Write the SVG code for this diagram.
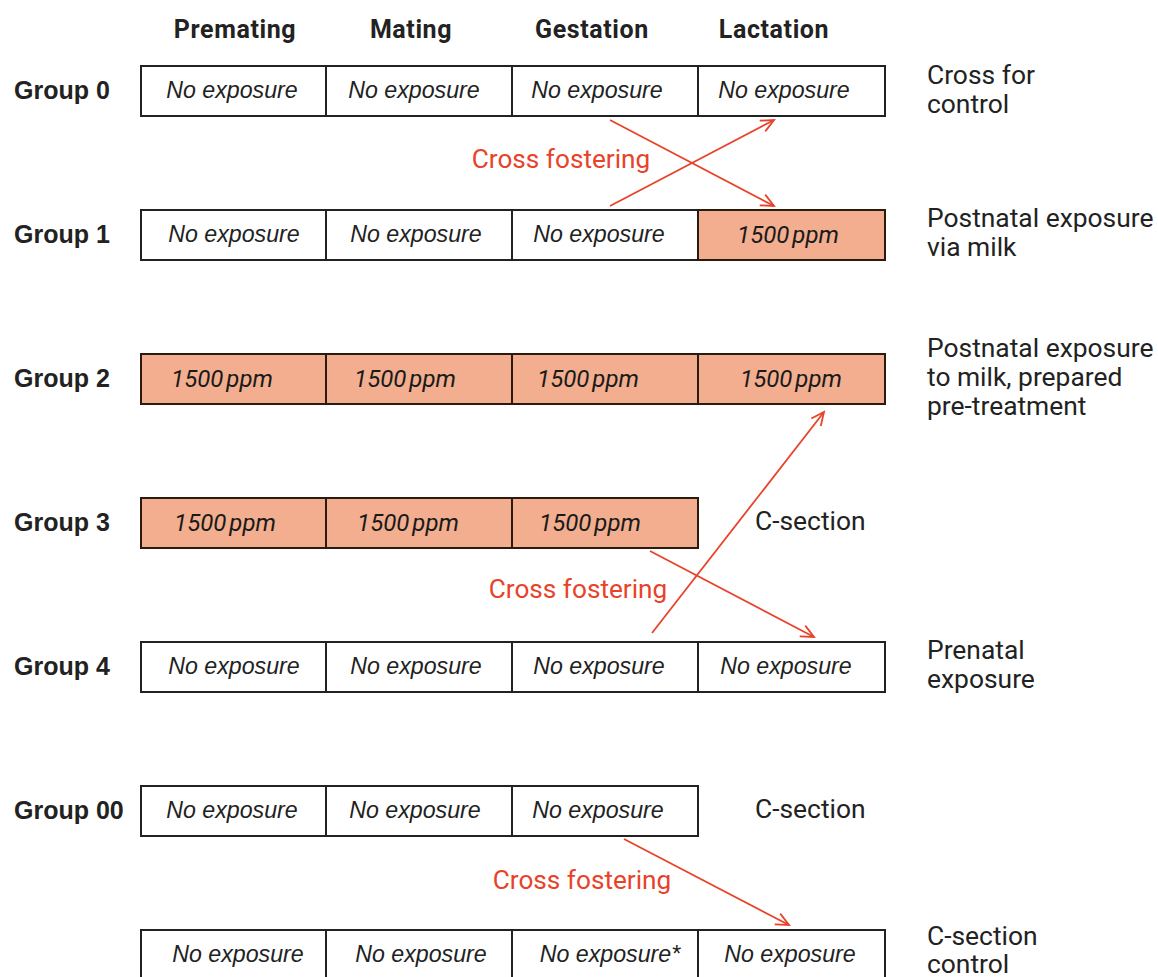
<svg xmlns="http://www.w3.org/2000/svg" width="1158" height="977" viewBox="0 0 1158 977">
<defs>
<marker id="ah" markerUnits="userSpaceOnUse" markerWidth="20" markerHeight="20" refX="14" refY="7" orient="auto" viewBox="0 0 20 14">
<path d="M1,1 L14,7 L1,13" fill="none" stroke="#e8432a" stroke-width="1.8"/>
</marker>
<style>
.hd{font-family:Roboto,"Liberation Sans",sans-serif;font-weight:bold;font-size:25px;letter-spacing:0.6px;fill:#222;text-anchor:middle}
.gl{font-family:"Liberation Sans",Arial,sans-serif;font-weight:bold;font-size:25px;fill:#222}
.ct{font-family:"Liberation Sans",Arial,sans-serif;font-style:italic;font-size:23.2px;fill:#222;text-anchor:middle}
.pp{font-family:Roboto,"Liberation Sans",sans-serif;font-style:italic;font-size:24px;fill:#1a1a1a;text-anchor:middle;word-spacing:-3px}
.rl{font-family:Roboto,"Liberation Sans",sans-serif;font-size:26.4px;fill:#222}
.cf{font-family:Roboto,"Liberation Sans",sans-serif;font-size:26.2px;fill:#e8432a;text-anchor:middle}
.c{fill:#fff;stroke:#222;stroke-width:2}
.e{fill:#f2ae8e;stroke:#2a1a10;stroke-width:2}
.ar{stroke:#e8432a;stroke-width:1.8;fill:none;marker-end:url(#ah)}
</style>
</defs>
<rect width="1158" height="977" fill="#fff"/>
<g id="headers">
<text class="hd" x="235" y="38">Premating</text>
<text class="hd" x="411" y="38">Mating</text>
<text class="hd" x="592" y="38">Gestation</text>
<text class="hd" x="774" y="38">Lactation</text>
</g>
<g id="group0">
<text class="gl" x="14" y="99">Group 0</text>
<rect class="c" x="141" y="66" width="185" height="50"/>
<rect class="c" x="326" y="66" width="186" height="50"/>
<rect class="c" x="512" y="66" width="186" height="50"/>
<rect class="c" x="698" y="66" width="187" height="50"/>
<text class="ct" x="232" y="98">No exposure</text>
<text class="ct" x="414" y="98">No exposure</text>
<text class="ct" x="597" y="98">No exposure</text>
<text class="ct" x="784" y="98">No exposure</text>
<text class="rl" x="927" y="84">Cross for</text>
<text class="rl" x="927" y="113">control</text>
</g>
<g id="group1">
<text class="gl" x="14" y="243">Group 1</text>
<rect class="c" x="141" y="210" width="185" height="50"/>
<rect class="c" x="326" y="210" width="186" height="50"/>
<rect class="c" x="512" y="210" width="186" height="50"/>
<rect class="e" x="698" y="210" width="187" height="50"/>
<text class="ct" x="234" y="242">No exposure</text>
<text class="ct" x="416" y="242">No exposure</text>
<text class="ct" x="599" y="242">No exposure</text>
<text class="pp" x="788" y="243">1500 ppm</text>
<text class="rl" x="927" y="227">Postnatal exposure</text>
<text class="rl" x="927" y="256">via milk</text>
</g>
<g id="group2">
<text class="gl" x="14" y="387">Group 2</text>
<rect class="e" x="141" y="354" width="185" height="50"/>
<rect class="e" x="326" y="354" width="186" height="50"/>
<rect class="e" x="512" y="354" width="186" height="50"/>
<rect class="e" x="698" y="354" width="187" height="50"/>
<text class="pp" x="222" y="387">1500 ppm</text>
<text class="pp" x="405" y="387">1500 ppm</text>
<text class="pp" x="588" y="387">1500 ppm</text>
<text class="pp" x="791" y="387">1500 ppm</text>
<text class="rl" x="927" y="357">Postnatal exposure</text>
<text class="rl" x="927" y="386">to milk, prepared</text>
<text class="rl" x="927" y="415">pre-treatment</text>
</g>
<g id="group3">
<text class="gl" x="14" y="531">Group 3</text>
<rect class="e" x="141" y="498" width="185" height="50"/>
<rect class="e" x="326" y="498" width="186" height="50"/>
<rect class="e" x="512" y="498" width="186" height="50"/>
<text class="pp" x="225" y="531">1500 ppm</text>
<text class="pp" x="408" y="531">1500 ppm</text>
<text class="pp" x="590" y="531">1500 ppm</text>
<text class="rl" x="755" y="530">C-section</text>
</g>
<g id="group4">
<text class="gl" x="14" y="675">Group 4</text>
<rect class="c" x="141" y="642" width="185" height="50"/>
<rect class="c" x="326" y="642" width="186" height="50"/>
<rect class="c" x="512" y="642" width="186" height="50"/>
<rect class="c" x="698" y="642" width="187" height="50"/>
<text class="ct" x="234" y="674">No exposure</text>
<text class="ct" x="416" y="674">No exposure</text>
<text class="ct" x="599" y="674">No exposure</text>
<text class="ct" x="786" y="674">No exposure</text>
<text class="rl" x="927" y="659">Prenatal</text>
<text class="rl" x="927" y="688">exposure</text>
</g>
<g id="group00">
<text class="gl" x="14" y="819">Group 00</text>
<rect class="c" x="141" y="786" width="185" height="50"/>
<rect class="c" x="326" y="786" width="186" height="50"/>
<rect class="c" x="512" y="786" width="186" height="50"/>
<text class="ct" x="232" y="818">No exposure</text>
<text class="ct" x="415" y="818">No exposure</text>
<text class="ct" x="598" y="818">No exposure</text>
<text class="rl" x="755" y="818">C-section</text>
</g>
<g id="control">
<rect class="c" x="141" y="930" width="185" height="60"/>
<rect class="c" x="326" y="930" width="186" height="60"/>
<rect class="c" x="512" y="930" width="186" height="60"/>
<rect class="c" x="698" y="930" width="187" height="60"/>
<text class="ct" x="238" y="962">No exposure</text>
<text class="ct" x="421" y="962">No exposure</text>
<text class="ct" x="610" y="962">No exposure*</text>
<text class="ct" x="790" y="962">No exposure</text>
<text class="rl" x="927" y="945">C-section</text>
<text class="rl" x="927" y="973">control</text>
</g>
<g id="connectors">
<line class="ar" x1="610" y1="120" x2="774" y2="206"/>
<line class="ar" x1="610" y1="206" x2="774" y2="120"/>
<text class="cf" x="561" y="168">Cross fostering</text>
<line class="ar" x1="650" y1="551" x2="814" y2="637"/>
<line class="ar" x1="652" y1="633" x2="824" y2="412"/>
<text class="cf" x="578" y="598">Cross fostering</text>
<line class="ar" x1="624" y1="839" x2="789" y2="925"/>
<text class="cf" x="582" y="889">Cross fostering</text>
</g>
</svg>
